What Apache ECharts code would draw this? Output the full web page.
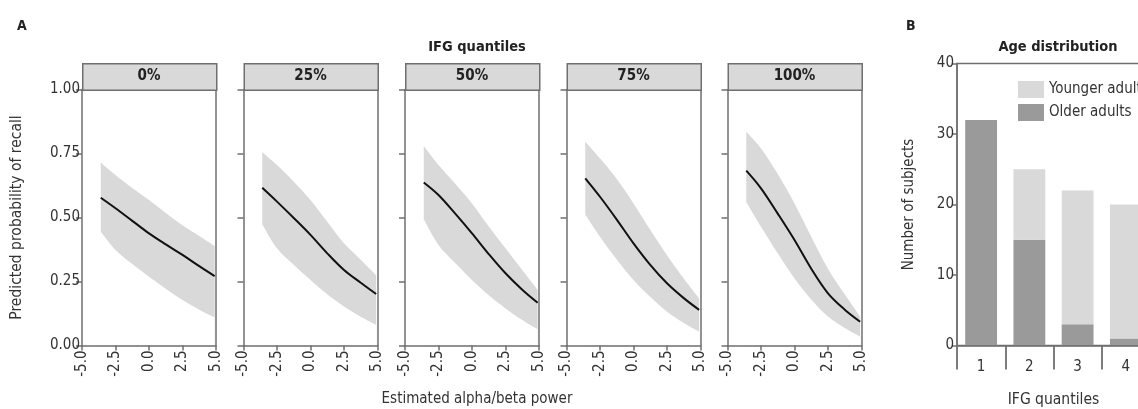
<!DOCTYPE html>
<html><head><meta charset="utf-8">
<script src="https://cdn.jsdelivr.net/npm/echarts@6/dist/echarts.min.js"></script>
<style>html,body{margin:0;padding:0;background:#fff}#c{width:1138px;height:409px}</style>
</head><body><div id="c"></div>
<script>
// ---- Panel A data ----
var panelLabels = ['0%', '25%', '50%', '75%', '100%'];
var xPower = [-3.6, -2.5, -1.25, 0, 1.25, 2.5, 3.75, 4.9];
var fit0 = [0.577, 0.536, 0.487, 0.438, 0.395, 0.354, 0.31, 0.271];
var up0  = [0.714, 0.666, 0.615, 0.568, 0.518, 0.47, 0.428, 0.389];
var lo0  = [0.445, 0.373, 0.318, 0.269, 0.222, 0.178, 0.14, 0.110];
var fit25 = [0.616, 0.562, 0.498, 0.432, 0.36, 0.295, 0.245, 0.201];
var up25  = [0.755, 0.705, 0.64, 0.568, 0.483, 0.399, 0.335, 0.275];
var lo25  = [0.475, 0.38, 0.315, 0.256, 0.2, 0.152, 0.112, 0.08];
var fit50 = [0.637, 0.588, 0.515, 0.438, 0.357, 0.282, 0.218, 0.167];
var up50  = [0.779, 0.705, 0.632, 0.555, 0.465, 0.38, 0.295, 0.217];
var lo50  = [0.494, 0.393, 0.322, 0.256, 0.196, 0.145, 0.1, 0.064];
var fit75 = [0.653, 0.581, 0.492, 0.399, 0.315, 0.243, 0.185, 0.139];
var up75  = [0.796, 0.731, 0.65, 0.555, 0.452, 0.353, 0.262, 0.184];
var lo75  = [0.512, 0.425, 0.336, 0.256, 0.19, 0.132, 0.088, 0.054];
var fit100 = [0.683, 0.614, 0.515, 0.412, 0.3, 0.204, 0.14, 0.093];
var up100  = [0.835, 0.77, 0.67, 0.555, 0.425, 0.30, 0.2, 0.113];
var lo100  = [0.562, 0.464, 0.36, 0.262, 0.18, 0.113, 0.068, 0.034];
var xTicks = [-5, -2.5, 0, 2.5, 5];
var yTicks = [0, 0.25, 0.5, 0.75, 1];

// ---- Panel B data ----
var quantiles = ['1', '2', '3', '4'];
var olderAdults = [32, 15, 3, 1];
var youngerAdults = [0, 10, 19, 19];
var countTicks = [0, 10, 20, 30, 40];

var fits = [fit0, fit25, fit50, fit75, fit100];
var ups = [up0, up25, up50, up75, up100];
var los = [lo0, lo25, lo50, lo75, lo100];

var FONT = "'Liberation Sans Narrow','DejaVu Sans Condensed','Arial Narrow',sans-serif";
var AX = '#6f6f6f';
var TXT = '#333';
var BAND = '#d9d9d9';

var lefts = [82, 243.5, 405, 566.5, 727.5];
var W = 134, TOP = 89.5, H = 256;

function pairs(xs, ys) { return xs.map(function (x, k) { return [x, ys[k]]; }); }
var lineSt = {color: AX, width: 1.5};

var grids = [], xAxes = [], yAxes = [], series = [], graphics = [];
for (var i = 0; i < 5; i++) {
  grids.push({left: lefts[i], top: TOP, width: W, height: H, show: false, outerBoundsMode: 'none', containLabel: false});
  // bottom x axis
  xAxes.push({type: 'value', gridIndex: i, position: 'bottom', min: -5, max: 5, interval: 2.5, z: 5,
    axisLine: {onZero: false, lineStyle: lineSt},
    axisTick: {length: 5, lineStyle: lineSt},
    splitLine: {show: false},
    axisLabel: {rotate: 90, margin: 5, fontFamily: FONT, fontSize: 15, color: TXT,
      formatter: function (v) { return v.toFixed(1); }, showMinLabel: true, showMaxLabel: true}});
  // top frame line
  xAxes.push({type: 'value', gridIndex: i, position: 'top', min: -5, max: 5, interval: 2.5, z: 5,
    axisLine: {onZero: false, lineStyle: lineSt}, axisTick: {show: false}, axisLabel: {show: false}, splitLine: {show: false}});
  yAxes.push({type: 'value', gridIndex: i, position: 'left', min: 0, max: 1, interval: 0.25, z: 5,
    axisLine: {onZero: false, lineStyle: lineSt},
    axisTick: {length: 6, lineStyle: lineSt},
    splitLine: {show: false},
    axisLabel: {show: i === 0, margin: 2, fontFamily: FONT, fontSize: 15, color: TXT,
      formatter: function (v) { return v.toFixed(2); }},
    name: i === 0 ? 'Predicted probability of recall' : '',
    nameLocation: 'middle', nameGap: 57, nameRotate: 90,
    nameTextStyle: {fontFamily: FONT, fontSize: 15.5, color: TXT}});
  // right frame line
  yAxes.push({type: 'value', gridIndex: i, position: 'right', min: 0, max: 1, interval: 0.25, z: 5,
    axisLine: {onZero: false, lineStyle: lineSt}, axisTick: {show: false}, axisLabel: {show: false}, splitLine: {show: false}});
  // upper bound filled grey down to 0, lower bound filled white down to 0 -> grey band between
  series.push({type: 'line', xAxisIndex: 2 * i, yAxisIndex: 2 * i, data: pairs(xPower, ups[i]), smooth: 0.35,
    symbol: 'none', lineStyle: {width: 0, opacity: 0}, areaStyle: {color: BAND, opacity: 1}, silent: true, z: 1});
  series.push({type: 'line', xAxisIndex: 2 * i, yAxisIndex: 2 * i, data: pairs(xPower, los[i]), smooth: 0.35,
    symbol: 'none', lineStyle: {width: 0, opacity: 0},
    areaStyle: {color: '#ffffff', opacity: 1, shadowColor: '#ffffff', shadowBlur: 0, shadowOffsetX: -1.2}, silent: true, z: 2});
  series.push({type: 'line', xAxisIndex: 2 * i, yAxisIndex: 2 * i, data: pairs(xPower, fits[i]), smooth: 0.35,
    symbol: 'none', lineStyle: {color: '#111', width: 2}, z: 3});
  // facet strip
  graphics.push({type: 'rect', left: lefts[i], top: 63, shape: {x: 0, y: 0, width: W, height: TOP - 63},
    style: {fill: BAND, stroke: AX, lineWidth: 1.5}, z: 10});
  graphics.push({type: 'text', x: lefts[i] + W / 2, y: 76.5,
    style: {text: panelLabels[i], fill: '#222', font: 'bold 15px ' + FONT, textAlign: 'center', textVerticalAlign: 'middle'}, z: 11});
}

// Panel B grid (index 5)
grids.push({left: 957, top: 63.5, width: 193, height: 282, show: true, borderColor: AX, borderWidth: 1.5,
  backgroundColor: 'transparent', outerBoundsMode: 'none', containLabel: false});
xAxes.push({type: 'category', gridIndex: 5, data: quantiles, boundaryGap: true, z: 6,
  axisLine: {show: true, lineStyle: lineSt},
  axisTick: {show: true, interval: 0, length: 24, alignWithLabel: false, lineStyle: {color: AX, width: 1.8}},
  axisLabel: {interval: 0, margin: 14, fontFamily: FONT, fontSize: 15, color: TXT},
  name: 'IFG quantiles', nameLocation: 'middle', nameGap: 46,
  nameTextStyle: {fontFamily: FONT, fontSize: 15.5, color: TXT}});
yAxes.push({type: 'value', gridIndex: 5, min: 0, max: 40, interval: 10, z: 5,
  axisLine: {show: true, lineStyle: lineSt},
  axisTick: {show: true, length: 5, lineStyle: lineSt},
  splitLine: {show: false},
  axisLabel: {margin: 3, fontFamily: FONT, fontSize: 15, color: TXT},
  name: 'Number of subjects', nameLocation: 'middle', nameGap: 40, nameRotate: 90,
  nameTextStyle: {fontFamily: FONT, fontSize: 15, color: TXT}});
series.push({type: 'bar', name: 'Older adults', xAxisIndex: 10, yAxisIndex: 10, stack: 'age', data: olderAdults,
  barWidth: '66%', itemStyle: {color: '#9a9a9a'}});
series.push({type: 'bar', name: 'Younger adults', xAxisIndex: 10, yAxisIndex: 10, stack: 'age', data: youngerAdults,
  barWidth: '66%', itemStyle: {color: BAND}});

var option = {
  animation: false,
  textStyle: {fontFamily: FONT},
  grid: grids, xAxis: xAxes, yAxis: yAxes, series: series,
  legend: {data: ['Younger adults', 'Older adults'], orient: 'vertical', left: 1013, top: 76,
    itemWidth: 26, itemHeight: 17, itemGap: 6, icon: 'rect',
    textStyle: {fontFamily: FONT, fontSize: 15, color: TXT}},
  title: [
    {text: 'A', left: 12, top: 14, textStyle: {fontFamily: FONT, fontSize: 14, fontWeight: 'bold', color: '#222'}},
    {text: 'B', left: 901, top: 14, textStyle: {fontFamily: FONT, fontSize: 14, fontWeight: 'bold', color: '#222'}},
    {text: 'IFG quantiles', left: 472, top: 35, textAlign: 'center', textStyle: {fontFamily: FONT, fontSize: 14.5, fontWeight: 'bold', color: '#222'}},
    {text: 'Age distribution', left: 1053, top: 35, textAlign: 'center', textStyle: {fontFamily: FONT, fontSize: 14.5, fontWeight: 'bold', color: '#222'}},
    {text: 'Estimated alpha/beta power', left: 472, top: 387, textAlign: 'center', textStyle: {fontFamily: FONT, fontSize: 15, fontWeight: 'normal', color: TXT}}
  ],
  graphic: graphics
};
var chart = echarts.init(document.getElementById('c'), null, {renderer: 'canvas'});
chart.setOption(option);
</script></body></html>
